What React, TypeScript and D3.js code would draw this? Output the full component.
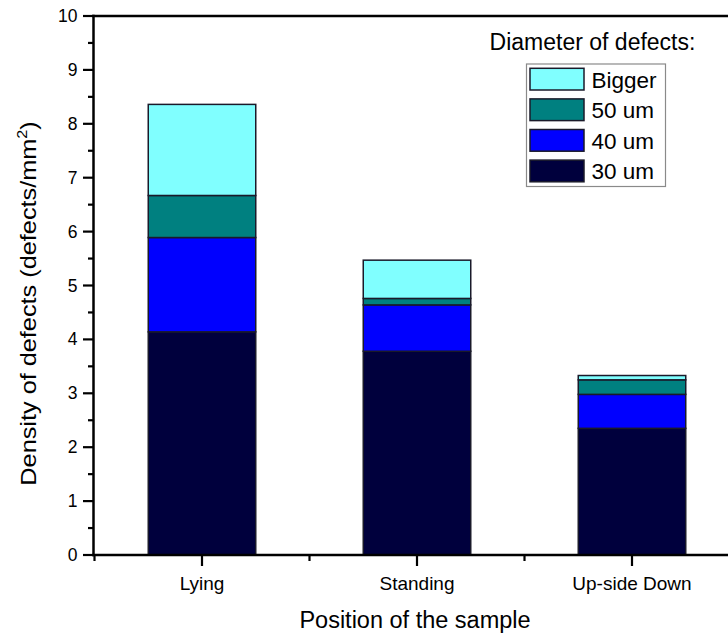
import React from "react";
import * as d3 from "d3";

const categories = ["Lying", "Standing", "Up-side Down"];
const seriesNames = ["30 um", "40 um", "50 um", "Bigger"];
const d30 = [4.14, 3.78, 2.35];
const d40 = [1.75, 0.86, 0.63];
const d50 = [0.78, 0.12, 0.27];
const dBig = [1.69, 0.71, 0.08];
const seriesColors = ["#00003d", "#0000ff", "#008080", "#80ffff"];
const yTicks = [0, 1, 2, 3, 4, 5, 6, 7, 8, 9, 10];

const W = 728;
const H = 635;
const FONT = "'Liberation Sans', Arial, sans-serif";

export default function App() {
  const y = d3.scaleLinear().domain([0, 10]).range([555, 16]);
  const x = d3
    .scaleBand<string>()
    .domain(categories)
    .range([94.5, 739.5])
    .paddingInner(0.5)
    .paddingOuter(0.25);

  const rows = categories.map((c, i) => ({
    cat: c,
    "30 um": d30[i],
    "40 um": d40[i],
    "50 um": d50[i],
    Bigger: dBig[i],
  }));
  const stacked = d3.stack<any>().keys(seriesNames)(rows);

  const minorY = d3.range(0, 10, 1).map((v) => v + 0.5);
  const step = x.step();
  const minorX = categories.map((c) => (x(c) as number) + x.bandwidth() / 2 - step / 2);

  const legendItems = [...seriesNames].reverse();
  const legendColors = [...seriesColors].reverse();

  return (
    <svg
      width={W}
      height={H}
      style={{ position: "absolute", left: 0, top: 0, background: "#fff" }}
      fontFamily={FONT}
    >
      <rect x={0} y={0} width={W} height={H} fill="#fff" />
      {/* bars */}
      {stacked.map((s, si) => (
        <g key={s.key}>
          {s.map((d, i) => (
            <rect
              key={i}
              x={x(categories[i])}
              y={y(d[1])}
              width={x.bandwidth()}
              height={y(d[0]) - y(d[1])}
              fill={seriesColors[si]}
              stroke="#1a1a2a"
              strokeWidth={1.5}
            />
          ))}
        </g>
      ))}

      {/* axes lines */}
      <line x1={93.5} x2={93.5} y1={14.8} y2={556.2} stroke="#000" strokeWidth={2.5} />
      <line x1={92.3} x2={W} y1={555} y2={555} stroke="#000" strokeWidth={2.5} />
      <line x1={92.3} x2={W} y1={16} y2={16} stroke="#000" strokeWidth={2.5} />

      {/* y ticks */}
      {yTicks.map((t) => (
        <g key={"yt" + t}>
          <line x1={83} x2={93.5} y1={y(t)} y2={y(t)} stroke="#000" strokeWidth={2.2} />
          <text x={77.5} y={y(t) + 6} fontSize={17.5} textAnchor="end" fill="#000">
            {t}
          </text>
        </g>
      ))}
      {minorY.map((t) => (
        <line key={"ym" + t} x1={88} x2={93.5} y1={y(t)} y2={y(t)} stroke="#000" strokeWidth={2.2} />
      ))}

      {/* x ticks */}
      {categories.map((c) => {
        const cx = (x(c) as number) + x.bandwidth() / 2;
        return (
          <g key={"xt" + c}>
            <line x1={cx} x2={cx} y1={555} y2={566} stroke="#000" strokeWidth={2.2} />
            <text x={cx} y={589.5} fontSize={19} textAnchor="middle" fill="#000">
              {c}
            </text>
          </g>
        );
      })}
      {minorX.map((mx, i) => (
        <line key={"xm" + i} x1={mx} x2={mx} y1={555} y2={561} stroke="#000" strokeWidth={2.2} />
      ))}

      {/* axis titles */}
      <text x={415} y={628} fontSize={23.5} textAnchor="middle" fill="#000">
        Position of the sample
      </text>
      <g transform="translate(36,303.5) rotate(-90) scale(1.15,1)">
        <text x={0} y={0} fontSize={22} textAnchor="middle" fill="#000">
          Density of defects (defects/mm
          <tspan fontSize={14} dy={-9}>2</tspan>
          <tspan dy={9}>)</tspan>
        </text>
      </g>

      {/* legend */}
      <text x={592.5} y={49.5} fontSize={23} textAnchor="middle" fill="#000">
        Diameter of defects:
      </text>
      <rect x={526.5} y={64} width={139} height={122.5} fill="#fff" stroke="#8a8a8a" strokeWidth={1.2} />
      {legendItems.map((name, i) => {
        const top = 68.3 + i * 30.6;
        return (
          <g key={"lg" + name}>
            <rect x={530} y={top} width={54} height={21.7} fill={legendColors[i]} stroke="#1a1a2a" strokeWidth={1.5} />
            <text x={591.5} y={top + 19.2} fontSize={22.5} fill="#000">
              {name}
            </text>
          </g>
        );
      })}
    </svg>
  );
}
